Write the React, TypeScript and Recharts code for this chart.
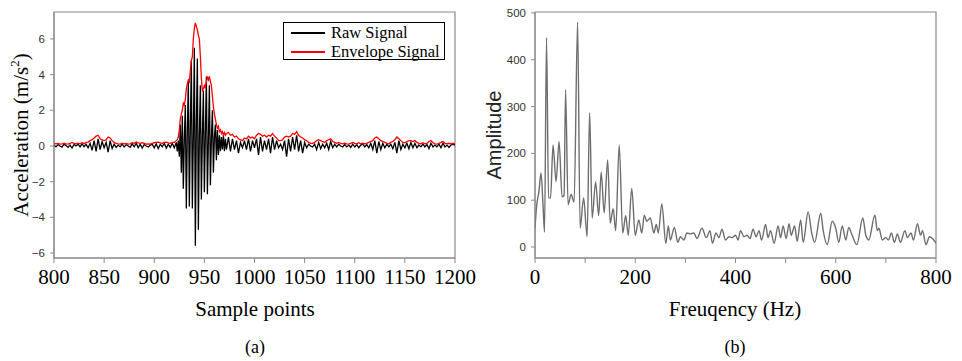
import React from 'react';
import { LineChart, Line, XAxis, YAxis, ReferenceArea } from 'recharts';

const SERIF = '"Liberation Serif", "Times New Roman", serif';
const SANS = '"Liberation Sans", Arial, sans-serif';
const FRAME = '#8a8a8a';

// (a) raw + envelope signal, three segments of sample points
// segment A: 800..922 step 2
const rawA = [
  0.05, -0.05, 0.08, 0.0, -0.06, 0.1, 0.02, -0.08, 0.05, -0.12,
  0.08, 0.0, 0.1, -0.05, 0.12, -0.04, 0.1, -0.1, 0.15, -0.25,
  0.3, -0.3, 0.4, -0.2, 0.25, -0.1, 0.2, -0.35, 0.3, -0.15,
  0.1, -0.08, 0.05, -0.05, 0.1, -0.06, 0.08, 0.0, -0.08, 0.12,
  -0.05, 0.15, -0.1, 0.1, -0.12, 0.08, 0.0, -0.06, 0.05, 0.1,
  -0.1, 0.12, -0.15, 0.1, -0.05, 0.15, -0.12, 0.1, -0.08, 0.15,
  -0.1, 0.2,
];
const envA = [
  0.15, 0.12, 0.14, 0.1, 0.12, 0.15, 0.12, 0.1, 0.14, 0.2,
  0.15, 0.12, 0.16, 0.12, 0.18, 0.14, 0.2, 0.22, 0.3, 0.35,
  0.45, 0.55, 0.6, 0.4, 0.35, 0.3, 0.35, 0.5, 0.45, 0.3,
  0.2, 0.15, 0.12, 0.1, 0.15, 0.12, 0.14, 0.1, 0.12, 0.18,
  0.15, 0.22, 0.18, 0.15, 0.18, 0.14, 0.1, 0.12, 0.1, 0.15,
  0.18, 0.2, 0.22, 0.18, 0.15, 0.2, 0.22, 0.18, 0.15, 0.2,
  0.2, 0.3,
];
// segment B: 923..971 step 1 (the burst)
const rawB = [
  -0.3, 0.3, -0.6, 1.2, -1.5, 1.7, -2.4, 0.4, 2.3, -3.5,
  0.8, 3.6, -3.4, 1.0, 4.8, -3.5, 0.5, 5.5, -5.6, 1.2,
  4.9, -4.7, 0.6, 3.4, -3.0, 0.5, 3.1, -2.6, 0.7, 3.9,
  -2.7, 0.3, 3.4, -2.2, 0.4, 2.0, -1.5, 0.5, 1.2, -0.8,
  0.9, -0.5, 0.6, -0.3, 0.5, -0.2, 0.6, -0.3, 0.4,
];
const envB = [
  0.35, 0.5, 0.9, 1.5, 1.8, 2.0, 2.4, 2.3, 2.6, 3.2,
  3.5, 3.7, 3.6, 4.2, 4.8, 5.0, 6.0, 6.6, 6.9, 6.7,
  6.5, 6.2, 6.0, 5.0, 3.8, 3.1, 3.2, 3.4, 3.3, 3.6,
  3.9, 3.7, 3.9, 3.6, 3.4, 2.8, 2.2, 1.8, 1.5, 1.2,
  1.0, 1.1, 0.8, 0.9, 0.7, 0.8, 0.6, 0.75, 0.6,
];
// segment C: 972..1200 step 2
const rawC = [
  -0.2, 0.5, -0.3, 0.4, -0.2, 0.3, -0.4, 0.2, -0.1, 0.3,
  -0.2, 0.4, -0.3, 0.3, -0.1, 0.4, -0.5, 0.5, -0.3, 0.3,
  -0.2, 0.4, -0.4, 0.5, -0.2, 0.3, -0.1, 0.1, -0.2, 0.3,
  -0.6, 0.4, -0.3, 0.5, -0.2, 0.6, -0.3, 0.3, -0.4, 0.2,
  -0.1, 0.1, 0.0, -0.05, 0.1, -0.2, 0.2, -0.15, 0.1, -0.1,
  0.15, -0.2, 0.25, -0.1, 0.1, -0.05, 0.1, 0.0, -0.05, 0.08,
  -0.05, 0.05, -0.08, 0.1, -0.05, 0.08, -0.1, 0.05, 0.1, -0.05,
  0.08, -0.1, 0.15, -0.2, 0.3, -0.4, 0.25, -0.2, 0.15, -0.1,
  0.1, -0.05, 0.1, -0.15, 0.2, -0.4, 0.3, -0.2, 0.1, -0.1,
  0.15, -0.15, 0.2, -0.1, 0.15, -0.1, 0.05, -0.05, 0.1, -0.05,
  0.08, -0.15, 0.15, -0.05, 0.05, -0.05, 0.1, -0.1, 0.15, -0.05,
  0.05, -0.08, 0.05, 0.1, 0.05,
];
const envC = [
  0.7, 0.75, 0.6, 0.65, 0.5, 0.55, 0.4, 0.35, 0.3, 0.45,
  0.4, 0.55, 0.45, 0.5, 0.4, 0.6, 0.7, 0.65, 0.55, 0.6,
  0.5, 0.6, 0.55, 0.7, 0.55, 0.45, 0.3, 0.3, 0.35, 0.5,
  0.55, 0.5, 0.55, 0.7, 0.65, 0.8, 0.6, 0.5, 0.45, 0.35,
  0.3, 0.2, 0.15, 0.15, 0.2, 0.3, 0.35, 0.3, 0.25, 0.2,
  0.3, 0.35, 0.4, 0.25, 0.2, 0.15, 0.2, 0.15, 0.12, 0.15,
  0.12, 0.1, 0.15, 0.2, 0.15, 0.12, 0.18, 0.12, 0.15, 0.12,
  0.15, 0.2, 0.25, 0.3, 0.45, 0.5, 0.4, 0.3, 0.25, 0.2,
  0.15, 0.12, 0.2, 0.25, 0.35, 0.5, 0.4, 0.3, 0.2, 0.18,
  0.25, 0.3, 0.3, 0.25, 0.3, 0.2, 0.15, 0.12, 0.18, 0.12,
  0.15, 0.25, 0.3, 0.18, 0.12, 0.1, 0.15, 0.2, 0.25, 0.15,
  0.12, 0.15, 0.12, 0.15, 0.12,
];
const sampleTicks = [800, 850, 900, 950, 1000, 1050, 1100, 1150, 1200];
const accelTicks = [-6, -4, -2, 0, 2, 4, 6];

// (b) spectrum
const freqHz = [
  0, 3, 8, 12, 16, 19, 23, 27, 31, 36, 42, 48, 54, 58, 61, 66, 72, 78, 85, 90,
  97, 104, 109, 114, 121, 127, 132, 138, 145, 150, 156, 161, 168, 175, 181, 186, 193, 200, 207, 213,
  218, 223, 230, 237, 242, 246, 253, 261, 266, 270, 278, 285, 290, 297, 303, 310, 317, 323, 333, 342,
  349, 354, 361, 367, 373, 380, 387, 393, 400, 405, 410, 417, 423, 429, 435, 441, 447, 452, 460, 465,
  470, 477, 485, 490, 495, 501, 507, 511, 518, 523, 530, 535, 545, 552, 558, 570, 575, 583, 593, 600,
  606, 613, 620, 626, 631, 642, 654, 660, 666, 678, 683, 686, 693, 700, 705, 711, 717, 723, 729, 738,
  743, 750, 755, 763, 769, 773, 780, 787, 793, 800,
];
const amplitude = [
  40, 85, 120, 158, 90, 32, 447, 105, 105, 218, 140, 225, 107, 110, 336, 90, 112, 96, 480, 40,
  105, 22, 287, 62, 139, 67, 160, 73, 186, 51, 82, 35, 218, 30, 67, 25, 125, 25, 58, 30,
  68, 55, 62, 30, 48, 30, 92, 8, 45, 15, 42, 10, 22, 15, 30, 28, 30, 18, 40, 20,
  35, 8, 30, 20, 38, 15, 22, 20, 25, 15, 35, 22, 25, 18, 38, 22, 35, 15, 48, 20,
  35, 8, 45, 20, 45, 18, 50, 25, 45, 12, 58, 10, 75, 30, 10, 72, 35, 5, 55, 40,
  10, 45, 15, 42, 30, 5, 62, 25, 15, 68, 35, 40, 15, 20, 15, 30, 10, 28, 10, 35,
  20, 30, 15, 50, 25, 35, 5, 22, 18, 8,
];
const freqTicks = [0, 100, 200, 300, 400, 500, 600, 700, 800];
const ampTicks = [0, 100, 200, 300, 400, 500];

const seg = (start: number, step: number, raw: number[], env: number[]) =>
  raw.map((r, i) => ({ x: start + i * step, raw: r, env: env[i] }));

const signalData = [
  ...seg(800, 2, rawA, envA),
  ...seg(923, 1, rawB, envB),
  ...seg(972, 2, rawC, envC),
];
const spectrumData = freqHz.map((f, i) => ({ f, amp: amplitude[i] }));

const minus = (v: number) => (v < 0 ? `\u2212${-v}` : `${v}`);

const xTick = { fontFamily: SERIF, fontSize: 21, fill: '#000' };
const yTick = { fontFamily: SANS, fontSize: 11.5, fill: '#333' };

const App = () => {
  return (
    <div style={{ position: 'absolute', left: 0, top: 0, width: 962, height: 361, background: '#fff' }}>
      <div style={{ position: 'absolute', left: 0, top: 0 }}>
        <LineChart width={480} height={300} data={signalData} margin={{ top: 12, right: 25, bottom: 12, left: 14 }}>
          <XAxis
            dataKey="x"
            type="number"
            domain={[800, 1200]}
            ticks={sampleTicks}
            interval={0}
            tick={xTick}
            tickSize={5}
            tickMargin={6}
            stroke={FRAME}
            height={30}
            allowDataOverflow
          />
          <YAxis
            type="number"
            domain={[-6.28, 7.51]}
            ticks={accelTicks}
            tickFormatter={minus}
            interval={0}
            width={40}
            tick={yTick}
            tickSize={4}
            tickMargin={5}
            stroke={FRAME}
            allowDataOverflow
          />
          <ReferenceArea x1={800} x2={1200} y1={-6.28} y2={7.51} fill="none" stroke={FRAME} strokeWidth={1.2} />
          <Line dataKey="raw" stroke="#000" strokeWidth={1.3} dot={false} isAnimationActive={false} />
          <Line dataKey="env" stroke="#ff0000" strokeWidth={1.3} dot={false} isAnimationActive={false} />
        </LineChart>
      </div>

      <div style={{ position: 'absolute', left: 480, top: 0 }}>
        <LineChart width={482} height={300} data={spectrumData} margin={{ top: 12, right: 26, bottom: 12, left: 17 }}>
          <XAxis
            dataKey="f"
            type="number"
            domain={[0, 800]}
            ticks={freqTicks}
            tickFormatter={(v: number) => (v % 200 === 0 ? `${v}` : '')}
            interval={0}
            tick={xTick}
            tickSize={5}
            tickMargin={6}
            stroke={FRAME}
            height={30}
            allowDataOverflow
          />
          <YAxis
            type="number"
            domain={[-23.5, 502]}
            ticks={ampTicks}
            interval={0}
            width={38}
            tick={yTick}
            tickSize={4}
            tickMargin={5}
            stroke={FRAME}
            allowDataOverflow
          />
          <ReferenceArea x1={0} x2={800} y1={-23.5} y2={502} fill="none" stroke={FRAME} strokeWidth={1.2} />
          <Line type="monotone" dataKey="amp" stroke="#6e6e6e" strokeWidth={1.4} dot={false} isAnimationActive={false} />
        </LineChart>
      </div>

      {/* legend of (a) */}
      <div
        style={{
          position: 'absolute',
          left: 283,
          top: 22,
          width: 160,
          height: 36,
          border: '1.3px solid #000',
          background: '#fff',
          fontFamily: SERIF,
          fontSize: 16.5,
          color: '#000',
        }}
      >
        {[
          { name: 'Raw Signal', color: '#000' },
          { name: 'Envelope Signal', color: '#ff0000' },
        ].map((it, i) => (
          <div key={it.name} style={{ position: 'absolute', left: 7, top: 1 + i * 19, height: 18, display: 'flex', alignItems: 'center' }}>
            <span style={{ display: 'inline-block', width: 34, height: 2.5, background: it.color, marginRight: 6 }} />
            <span style={{ lineHeight: '18px', whiteSpace: 'nowrap' }}>{it.name}</span>
          </div>
        ))}
      </div>

      {/* axis titles and captions */}
      <svg width={962} height={361} style={{ position: 'absolute', left: 0, top: 0, pointerEvents: 'none' }}>
        <text x={21} y={135} transform="rotate(-90 21 135)" textAnchor="middle" dominantBaseline="central" fontFamily={SERIF} fontSize={21} fill="#000">
          <tspan>Acceleration (m/s</tspan>
          <tspan dy={-7} fontSize={13}>2</tspan>
          <tspan dy={7}>)</tspan>
        </text>
        <text x={494} y={135} transform="rotate(-90 494 135)" textAnchor="middle" dominantBaseline="central" fontFamily={SANS} fontSize={20} fill="#222">
          Amplitude
        </text>
        <text x={255} y={309} textAnchor="middle" dominantBaseline="central" fontFamily={SERIF} fontSize={21} fill="#000">
          Sample points
        </text>
        <text x={735} y={309} textAnchor="middle" dominantBaseline="central" fontFamily={SERIF} fontSize={21} fill="#000">
          Freuqency (Hz)
        </text>
        <text x={255} y={347} textAnchor="middle" dominantBaseline="central" fontFamily={SERIF} fontSize={18} fill="#000">
          (a)
        </text>
        <text x={735} y={347} textAnchor="middle" dominantBaseline="central" fontFamily={SERIF} fontSize={18} fill="#000">
          (b)
        </text>
      </svg>
    </div>
  );
};

export default App;
